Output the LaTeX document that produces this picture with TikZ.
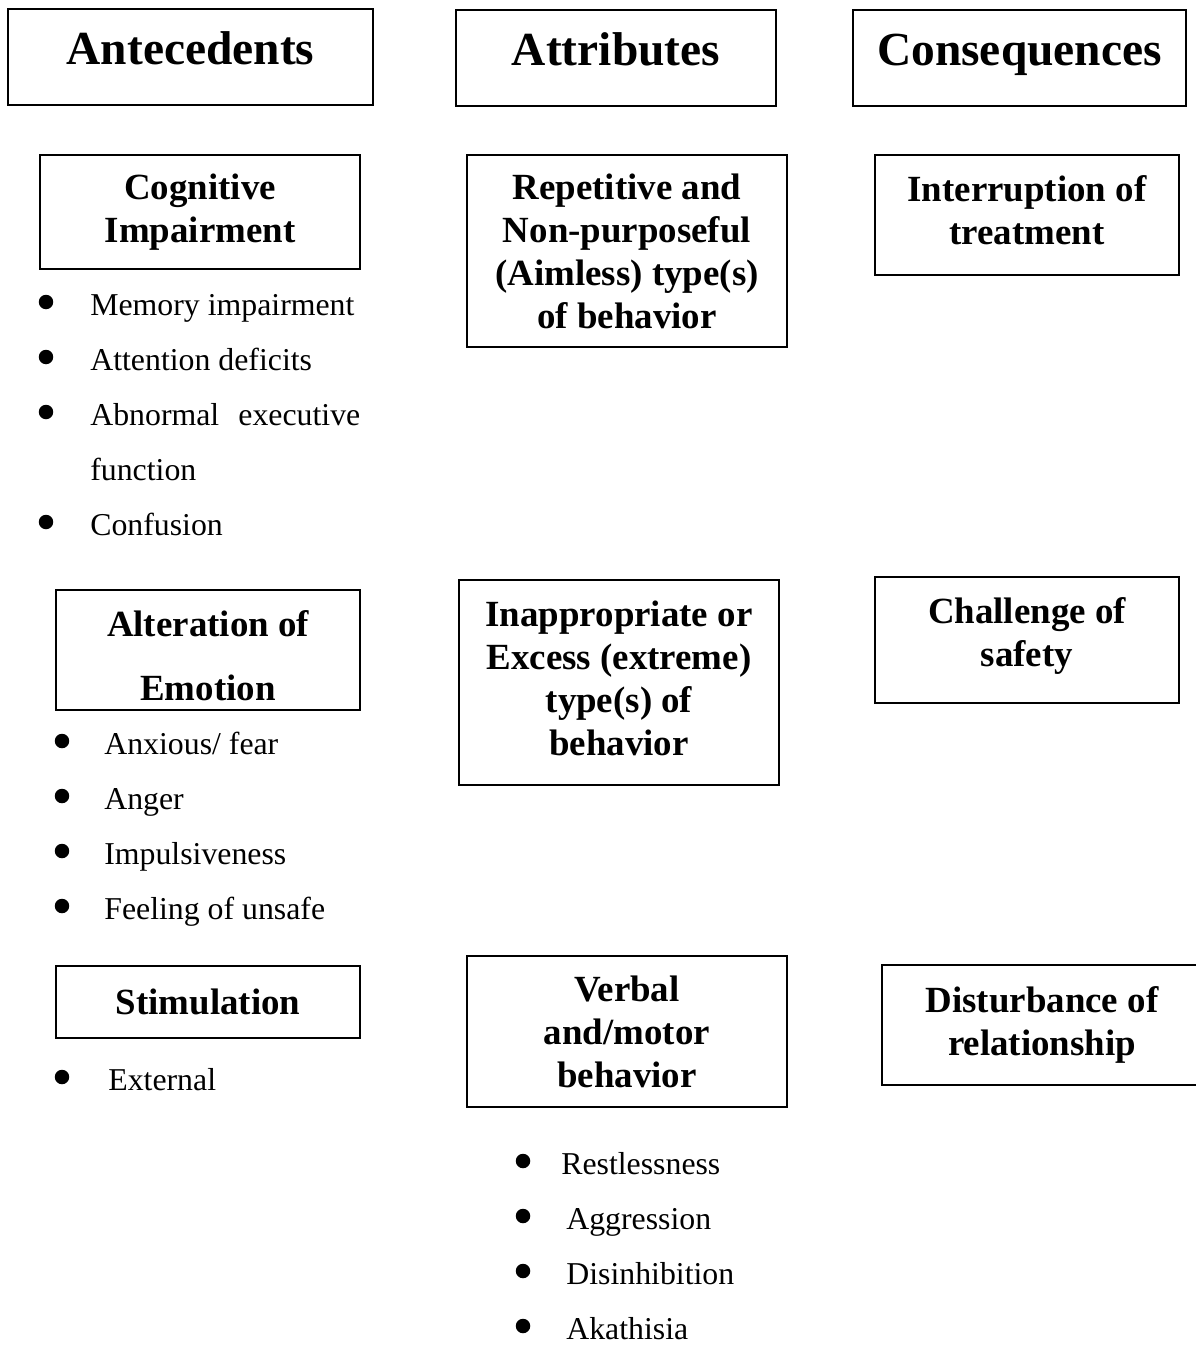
\documentclass[tikz,border=0pt]{standalone}
\usepackage{fontspec}
\setmainfont{Liberation Serif}
\usetikzlibrary{positioning}

\begin{document}
\begin{tikzpicture}[
  x=0.02cm, y=-0.02cm,
  box/.style    ={draw, line width=0.8pt, align=center, inner sep=0pt},
  head/.style   ={box, font=\fontsize{27}{32}\selectfont\bfseries, minimum height=1.92cm,
                  text height=0.5cm, text depth=0.18cm},
  concept/.style={box, font=\fontsize{21}{24.5}\selectfont\bfseries},
  dot/.style    ={circle, fill, inner sep=0pt, minimum size=0.29cm},
  item/.style   ={anchor=base west, inner sep=0pt, font=\fontsize{18.1}{31}\selectfont},
]
\useasboundingbox (0,0) rectangle (1196,1345);

% ================= column headers =================
\node[head, minimum width=7.3cm]  (ante) at (190.5,57) {Antecedents};
\node[head, minimum width=6.4cm]  (attr) at (616,58)   {Attributes};
\node[head, minimum width=6.66cm] (cons) at (1019.5,58) {Consequences};

% ================= antecedents =================
\node[concept, minimum width=6.4cm, minimum height=2.28cm] (cog) at (200,212)
  {Cognitive\\Impairment};
\node[concept, minimum width=6.08cm, minimum height=2.4cm] (emo) at (208,650)
  {\rule{0pt}{21.5pt}Alteration of\\[12pt]Emotion};
\node[concept, minimum width=6.08cm, minimum height=1.44cm] (stim) at (208,1002)
  {Stimulation};

\foreach \n/\y/\t in {mem/305/Memory impairment, att/360/Attention deficits,
    abn/415/{\makebox[5.4cm][s]{Abnormal executive}}, con/525/Confusion}{
  \node[dot] (d-\n) at (46,\y-3) {};
  \node[item] (t-\n) at (90,\y+10) {\t};
}
\node[item] (t-fun) at (90,480) {function};

\foreach \n/\y/\t in {anx/744/{Anxious/ fear}, ang/799/Anger,
    imp/854/Impulsiveness, uns/909/Feeling of unsafe}{
  \node[dot] (d-\n) at (62,\y-3) {};
  \node[item] (t-\n) at (104,\y+10) {\t};
}
\node[dot] (d-ext) at (62,1077) {};
\node[item] (t-ext) at (108,1090) {External};

% ================= attributes =================
\node[concept, minimum width=6.4cm, minimum height=3.84cm] (rep) at (627,251)
  {Repetitive and\\Non-purposeful\\(Aimless) type(s)\\of behavior};
\node[concept, minimum width=6.4cm, minimum height=4.1cm] (inap) at (619,682.5)
  {Inappropriate or\\Excess (extreme)\\type(s) of\\behavior\rule[-0.16cm]{0pt}{0pt}};
\node[concept, minimum width=6.4cm, minimum height=3.02cm] (verb) at (627,1031.5)
  {Verbal\\and/motor\\behavior};

\node[dot] (d-res) at (523,1161) {};
\node[item] (t-res) at (561,1174) {Restlessness};
\foreach \n/\y/\t in {agg/1219/Aggression, dis/1274/Disinhibition, aka/1329/Akathisia}{
  \node[dot] (d-\n) at (523,\y-3) {};
  \node[item] (t-\n) at (566,\y+10) {\t};
}

% ================= consequences =================
\node[concept, minimum width=6.08cm, minimum height=2.4cm] (intr) at (1027,215)
  {Interruption of\\treatment\rule[-0.2cm]{0pt}{0pt}};
\node[concept, minimum width=6.08cm, minimum height=2.52cm] (safe) at (1027,640)
  {Challenge of\\safety\rule[-0.32cm]{0pt}{0pt}};
% right edge runs off the page
\node[concept, minimum width=6.4cm, minimum height=2.4cm] (rel) at (1042,1025)
  {Disturbance of\\relationship};

\end{tikzpicture}
\end{document}
